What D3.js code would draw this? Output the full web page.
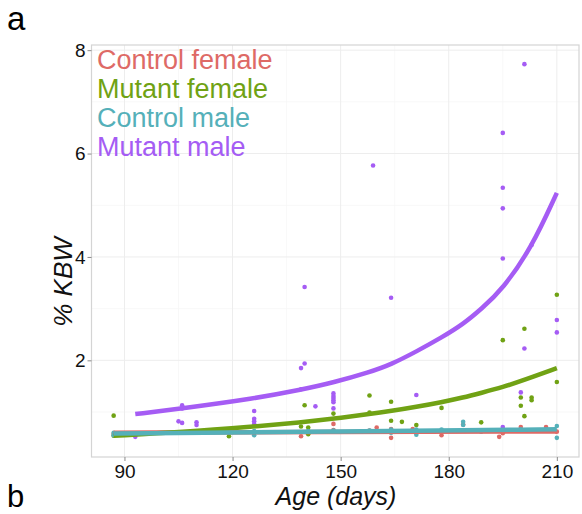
<!DOCTYPE html>
<html>
<head>
<meta charset="utf-8">
<script src="https://cdn.jsdelivr.net/npm/d3@7"></script>
<style>
  html, body { margin: 0; padding: 0; background: #fff; }
  svg { display: block; font-family: "Liberation Sans", Arial, sans-serif; }
</style>
</head>
<body>
<svg id="chart" width="582" height="514"></svg>
<script>
// Groups, in drawing order
const groups = ["Control female", "Mutant female", "Control male", "Mutant male"];
const groupColors = ["#DE6A66", "#70A214", "#55B0B9", "#A55CF4"];

// Tick values
const xTicks = [90, 120, 150, 180, 210];
const yTicks = [2, 4, 6, 8];

// Observations: age (days) and % KBW per group
const controlFemaleAge = [87, 106, 126, 139, 141, 148, 148, 158, 160, 164, 164, 167, 170, 171, 178, 184, 189, 194, 195, 200, 207, 210];
const controlFemaleKbw = [0.58, 0.60, 0.60, 0.53, 0.62, 0.77, 0.65, 0.64, 0.70, 0.67, 0.50, 0.62, 0.67, 0.60, 0.55, 0.76, 0.64, 0.52, 0.59, 0.71, 0.71, 0.62];

const mutantFemaleAge = [87, 87, 119, 139, 140, 141, 141, 148, 158, 158, 164, 164, 167, 171, 178, 189, 195, 200, 200, 201, 201, 203, 203, 210, 210];
const mutantFemaleKbw = [0.93, 0.54, 0.53, 0.72, 1.13, 0.70, 0.57, 0.97, 1.32, 0.99, 1.20, 0.83, 0.81, 0.75, 1.08, 0.80, 2.39, 1.28, 1.12, 2.61, 0.92, 1.28, 1.23, 3.27, 1.58];

const controlMaleAge = [87, 87, 106, 126, 126, 141, 148, 158, 164, 164, 171, 171, 178, 184, 184, 189, 195, 200, 210, 210];
const controlMaleKbw = [0.55, 0.60, 0.61, 0.55, 0.63, 0.63, 0.64, 0.64, 0.60, 0.66, 0.56, 0.66, 0.66, 0.81, 0.75, 0.62, 0.66, 0.66, 0.73, 0.50];

const mutantMaleAge = [93, 106, 106, 105, 106, 110, 110, 126, 126, 126, 126, 139, 140, 139, 140, 143, 148, 148, 148, 148, 148, 148, 159, 164, 171, 195, 195, 195, 195, 195, 200, 201, 201, 203, 210, 210];
const mutantMaleKbw = [0.52, 1.13, 1.07, 0.82, 0.79, 0.80, 0.75, 1.02, 0.87, 0.82, 0.77, 1.85, 1.94, 1.44, 3.42, 1.11, 1.36, 1.31, 1.27, 1.23, 1.19, 1.07, 5.77, 3.21, 1.33, 6.40, 5.34, 4.94, 3.97, 0.71, 1.38, 7.73, 2.23, 4.23, 2.78, 2.54];

// Fitted trend per group
const controlFemaleFitAge = [87, 150, 210];
const controlFemaleFitKbw = [0.60, 0.615, 0.625];
const mutantFemaleFitAge = [87, 106, 126, 139, 148, 158, 164, 171, 178, 184, 189, 195, 201, 210];
const mutantFemaleFitKbw = [0.54, 0.61, 0.72, 0.80, 0.87, 0.96, 1.02, 1.10, 1.19, 1.28, 1.37, 1.48, 1.62, 1.85];
const controlMaleFitAge = [87, 150, 210];
const controlMaleFitKbw = [0.585, 0.625, 0.665];
const mutantMaleFitAge = [93, 106, 126, 139, 148, 158, 164, 171, 178, 184, 189, 195, 203, 210];
const mutantMaleFitKbw = [0.96, 1.07, 1.26, 1.43, 1.57, 1.77, 1.92, 2.17, 2.44, 2.70, 2.99, 3.38, 4.18, 5.24];

const points = [
  [controlFemaleAge, controlFemaleKbw],
  [mutantFemaleAge, mutantFemaleKbw],
  [controlMaleAge, controlMaleKbw],
  [mutantMaleAge, mutantMaleKbw]
];
const fits = [
  [controlFemaleFitAge, controlFemaleFitKbw],
  [mutantFemaleFitAge, mutantFemaleFitKbw],
  [controlMaleFitAge, controlMaleFitKbw],
  [mutantMaleFitAge, mutantMaleFitKbw]
];

const svg = d3.select("#chart");
const panel = { left: 91.5, right: 579, top: 45, bottom: 457 };
const W = panel.right - panel.left, H = panel.bottom - panel.top;

const x = d3.scaleLinear().domain([80.85, 216.15]).range([panel.left, panel.right]);
const y = d3.scaleLinear().domain([0.13, 8.1]).range([panel.bottom, panel.top]);

// Grid: minor then major
const g = svg.append("g");
const xMinor = [105, 135, 165, 195];
const yMinor = [1, 3, 5, 7];
g.selectAll(".xminor").data(xMinor).join("line")
  .attr("x1", d => x(d)).attr("x2", d => x(d)).attr("y1", panel.top).attr("y2", panel.bottom)
  .attr("stroke", "#F6F6F6").attr("stroke-width", 0.8);
g.selectAll(".yminor").data(yMinor).join("line")
  .attr("y1", d => y(d)).attr("y2", d => y(d)).attr("x1", panel.left).attr("x2", panel.right)
  .attr("stroke", "#F6F6F6").attr("stroke-width", 0.8);
g.selectAll(".xmajor").data(xTicks).join("line")
  .attr("x1", d => x(d)).attr("x2", d => x(d)).attr("y1", panel.top).attr("y2", panel.bottom)
  .attr("stroke", "#EDEDED").attr("stroke-width", 1);
g.selectAll(".ymajor").data(yTicks).join("line")
  .attr("y1", d => y(d)).attr("y2", d => y(d)).attr("x1", panel.left).attr("x2", panel.right)
  .attr("stroke", "#EDEDED").attr("stroke-width", 1);

// Points
groups.forEach((name, i) => {
  const [ages, vals] = points[i];
  svg.append("g").selectAll("circle").data(ages.map((a, k) => [a, vals[k]])).join("circle")
    .attr("cx", d => x(d[0])).attr("cy", d => y(d[1])).attr("r", 2.3)
    .attr("fill", groupColors[i]);
});

// Smoothed trend lines through the fit values
const line = d3.line().x(d => x(d[0])).y(d => y(d[1])).curve(d3.curveBasis);
groups.forEach((name, i) => {
  const [ages, vals] = fits[i];
  svg.append("path").datum(ages.map((a, k) => [a, vals[k]]))
    .attr("d", line).attr("fill", "none")
    .attr("stroke", groupColors[i]).attr("stroke-width", 4.5);
});

// Panel border
svg.append("rect").attr("x", panel.left).attr("y", panel.top).attr("width", W).attr("height", H)
  .attr("fill", "none").attr("stroke", "#D4D4D4").attr("stroke-width", 1.2);

// Axes
const xAxis = svg.append("g").attr("transform", `translate(0,${panel.bottom})`)
  .call(d3.axisBottom(x).tickValues(xTicks).tickSize(4).tickPadding(4));
const yAxis = svg.append("g").attr("transform", `translate(${panel.left},0)`)
  .call(d3.axisLeft(y).tickValues(yTicks).tickSize(4).tickPadding(2));
[xAxis, yAxis].forEach(a => {
  a.select(".domain").remove();
  a.selectAll(".tick line").attr("stroke", "#8A8A8A");
  a.selectAll(".tick text").attr("fill", "#111").style("font-size", "19px")
    .style("font-family", "'Liberation Sans', Arial, sans-serif");
});

// Axis titles
svg.append("text").attr("x", 336).attr("y", 505).attr("text-anchor", "middle")
  .style("font-size", "25px").style("font-style", "italic").attr("fill", "#111")
  .text("Age (days)");
svg.append("text").attr("transform", "translate(71.5,282) rotate(-90)").attr("text-anchor", "middle")
  .style("font-size", "26px").style("font-style", "italic").attr("fill", "#111")
  .text("% KBW");

// Legend
const legendBase = [69, 98, 127, 156];
groups.forEach((name, i) => {
  svg.append("text").attr("x", 97).attr("y", legendBase[i])
    .style("font-size", "27px").attr("fill", groupColors[i]).text(name);
});

// Panel letters
svg.append("text").attr("x", 7).attr("y", 30).style("font-size", "33px").attr("fill", "#000").text("a");
svg.append("text").attr("x", 7).attr("y", 507).style("font-size", "31px").attr("fill", "#000").text("b");
</script>
</body>
</html>
